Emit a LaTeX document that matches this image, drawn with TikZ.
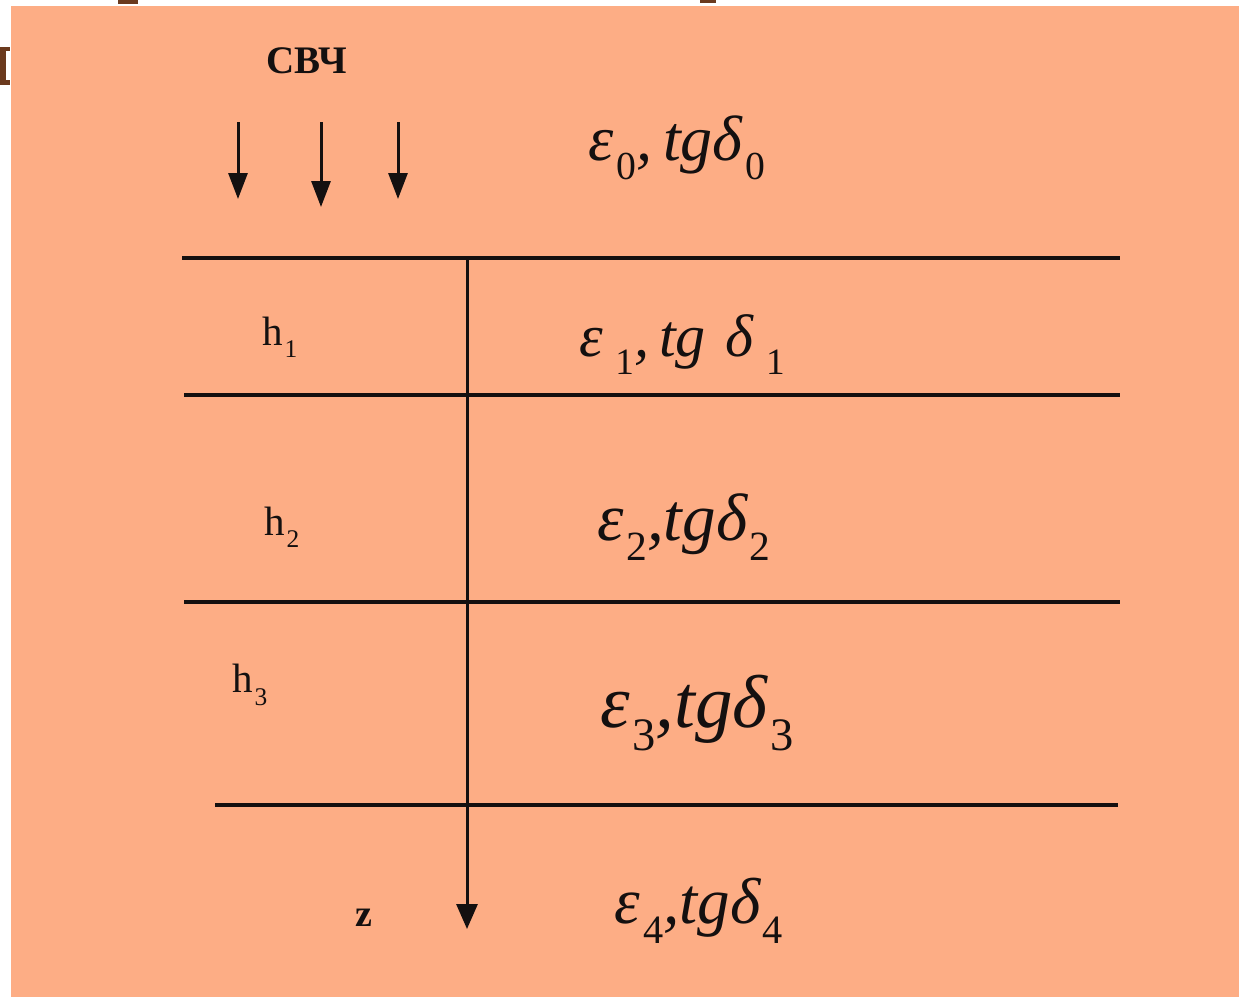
\documentclass[tikz,border=0pt]{standalone}
\usepackage{fontspec}
\setmainfont{Liberation Serif}
\usetikzlibrary{arrows.meta}
\definecolor{salmon}{HTML}{FDAD85}
\definecolor{brownfrag}{HTML}{6B3A1E}
\definecolor{ink}{HTML}{141010}
\newcommand\lsub[1]{\kern0.04em\raisebox{-0.3em}{\upshape\scalebox{0.62}{#1}}}
\begin{document}
\begin{tikzpicture}[x=1pt,y=-1pt,
  layerline/.style={draw=ink,line width=3.5pt},
  wave/.style={draw=ink,line width=3pt,-{Triangle[length=26pt,width=19pt]}},
  axisline/.style={draw=ink,line width=3pt,-{Triangle[length=25pt,width=21pt]}},
  medium/.style={inner sep=0pt,anchor=center,text=ink},
  hlab/.style={inner sep=0pt,anchor=center,text=ink,font=\fontsize{41}{44}\selectfont}]
\useasboundingbox (0,0) rectangle (1239,997);
\fill[white] (0,0) rectangle (1239,997);
\fill[salmon] (11,6) rectangle (1239,997);
% cut-off fragments of a title
\fill[brownfrag] (118,0) rectangle (138,4);
\fill[brownfrag] (700,0) rectangle (716,3);
\fill[brownfrag] (0,47) rectangle (10,51);
\fill[brownfrag] (0,47) rectangle (6,85);
\fill[brownfrag] (0,80) rectangle (10,85);
% microwave label and arrows
\node[inner sep=0pt,text=ink,font=\bfseries\fontsize{39}{44}\selectfont] (svch) at (307,61) {СВЧ};
\coordinate (w1s) at (238,122); \coordinate (w1e) at (238,199);
\coordinate (w2s) at (321,122); \coordinate (w2e) at (321,207);
\coordinate (w3s) at (398,122); \coordinate (w3e) at (398,199);
\draw[wave] (w1s) -- (w1e);
\draw[wave] (w2s) -- (w2e);
\draw[wave] (w3s) -- (w3e);
% layer boundaries
\coordinate (b1l) at (182,258); \coordinate (b1r) at (1120,258);
\coordinate (b2l) at (184,395); \coordinate (b2r) at (1120,395);
\coordinate (b3l) at (184,602); \coordinate (b3r) at (1120,602);
\coordinate (b4l) at (215,805); \coordinate (b4r) at (1118,805);
\draw[layerline] (b1l) -- (b1r);
\draw[layerline] (b2l) -- (b2r);
\draw[layerline] (b3l) -- (b3r);
\draw[layerline] (b4l) -- (b4r);
% z axis
\coordinate (ztop) at (467,258); \coordinate (zend) at (467,929);
\draw[axisline] (ztop) -- (zend);
\node[inner sep=0pt,text=ink,font=\bfseries\fontsize{38}{42}\selectfont] (zlab) at (364,918) {z};
% thickness labels
\node[hlab] (h1) at (280,337) {h\lsub{1}};
\node[hlab] (h2) at (282,527) {h\lsub{2}};
\node[hlab] (h3) at (250,685) {h\lsub{3}};
% media
\node[medium,font=\fontsize{64}{68}\selectfont] (e0) at (677,148) {\itshape ε\lsub{0},\,tgδ\lsub{0}};
\node[medium,font=\fontsize{60}{64}\selectfont] (e1) at (682,345) {\itshape ε\,\lsub{1},\,tg\,\,δ\,\lsub{1}};
\node[medium,font=\fontsize{67}{70}\selectfont] (e2) at (684,527) {\itshape ε\lsub{2},tgδ\lsub{2}};
\node[medium,font=\fontsize{75}{78}\selectfont] (e3) at (697,713) {\itshape ε\lsub{3},tgδ\lsub{3}};
\node[medium,font=\fontsize{65}{68}\selectfont] (e4) at (699,911) {\itshape ε\lsub{4},tgδ\lsub{4}};
\end{tikzpicture}
\end{document}
